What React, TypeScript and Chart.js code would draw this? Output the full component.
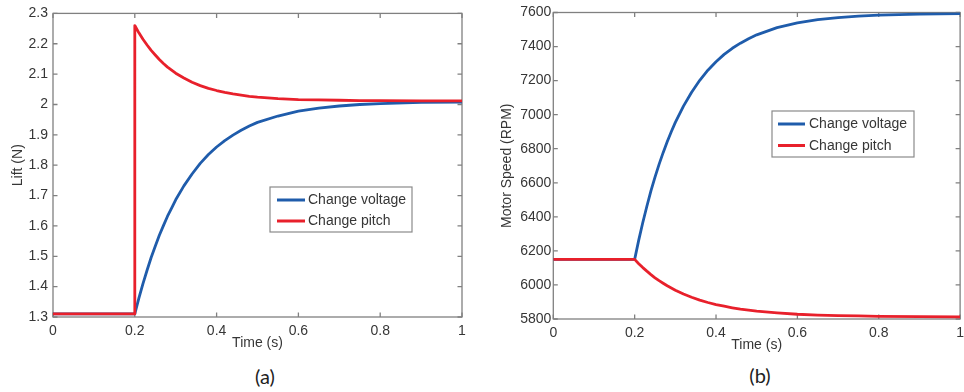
import React, { useEffect, useRef } from "react";
import { Chart, registerables } from "chart.js";

Chart.register(...registerables);

// ---------- data ----------
const time = [
  0, 0.2, 0.2, 0.21, 0.22, 0.23, 0.24, 0.25, 0.26, 0.27, 0.28, 0.29, 0.3,
  0.32, 0.34, 0.36, 0.38, 0.4, 0.42, 0.44, 0.46, 0.48, 0.5,
  0.55, 0.6, 0.65, 0.7, 0.75, 0.8, 0.9, 1.0,
];

// (a) Lift (N)
const liftVoltage = [
  1.31, 1.31, 1.31, 1.362, 1.41, 1.454, 1.496, 1.533, 1.569, 1.601, 1.632, 1.659, 1.686,
  1.732, 1.771, 1.806, 1.835, 1.86, 1.881, 1.899, 1.915, 1.929, 1.941,
  1.962, 1.978, 1.988, 1.995, 2.0, 2.003, 2.007, 2.008,
];
const liftPitch = [
  1.31, 1.31, 2.26, 2.236, 2.215, 2.196, 2.178, 2.163, 2.148, 2.135, 2.123, 2.113, 2.103,
  2.087, 2.073, 2.062, 2.053, 2.046, 2.04, 2.035, 2.031, 2.027, 2.024,
  2.019, 2.016, 2.015, 2.014, 2.013, 2.013, 2.012, 2.012,
];

// (b) Motor Speed (RPM)
const speedVoltage = [
  6150, 6150, 6150, 6263, 6367, 6462, 6552, 6633, 6708, 6777, 6841, 6900, 6955,
  7050, 7132, 7202, 7261, 7311, 7354, 7390, 7420, 7446, 7469,
  7511, 7539, 7558, 7570, 7579, 7584, 7590, 7593,
];
const speedPitch = [
  6150, 6150, 6150, 6125, 6102, 6081, 6061, 6042, 6025, 6010, 5995, 5982, 5969,
  5947, 5928, 5911, 5897, 5885, 5875, 5866, 5858, 5852, 5846,
  5836, 5828, 5823, 5820, 5818, 5816, 5814, 5813,
];

const timeTicks = [0, 0.2, 0.4, 0.6, 0.8, 1];
const liftTicks = [1.3, 1.4, 1.5, 1.6, 1.7, 1.8, 1.9, 2.0, 2.1, 2.2, 2.3];
const speedTicks = [5800, 6000, 6200, 6400, 6600, 6800, 7000, 7200, 7400, 7600];

const seriesLabels = ["Change voltage", "Change pitch"];
const xTitle = "Time (s)";
const yTitles = ["Lift (N)", "Motor Speed (RPM)"];
const panelLabels = ["(a)", "(b)"];

// ---------- styles ----------
const BLUE = "#1f5cab";
const RED = "#e8202b";
const TEXT = "#363636";
const FRAME = "#808080";
const FONT = "'Liberation Sans', Arial, sans-serif";

const fmt = (v: number) => String(Number(Number(v).toFixed(2)));

const framePlugin = {
  id: "matlabFrame",
  beforeDatasetsDraw(chart: any) {
    const { ctx, chartArea, scales } = chart;
    const { left, right, top, bottom } = chartArea;
    const xs = scales.x;
    const ys = scales.y;
    ctx.save();
    ctx.strokeStyle = FRAME;
    ctx.lineWidth = 1.3;
    ctx.strokeRect(left, top, right - left, bottom - top);
    const L = 4.5;
    ctx.beginPath();
    xs.ticks.forEach((t: any) => {
      const px = xs.getPixelForValue(t.value);
      ctx.moveTo(px, bottom);
      ctx.lineTo(px, bottom - L);
      ctx.moveTo(px, top);
      ctx.lineTo(px, top + L);
    });
    ys.ticks.forEach((t: any) => {
      const py = ys.getPixelForValue(t.value);
      ctx.moveTo(left, py);
      ctx.lineTo(left + L, py);
      ctx.moveTo(right, py);
      ctx.lineTo(right - L, py);
    });
    ctx.stroke();
    ctx.restore();
  },
};

const legendPlugin = {
  id: "matlabLegend",
  afterDraw(chart: any, _args: any, opts: any) {
    const { ctx } = chart;
    const { box, rows, lineX0, lineX1, textX } = opts;
    ctx.save();
    ctx.fillStyle = "#ffffff";
    ctx.fillRect(box.x, box.y, box.w, box.h);
    ctx.strokeStyle = "#8a8a8a";
    ctx.lineWidth = 1.2;
    ctx.strokeRect(box.x, box.y, box.w, box.h);
    chart.data.datasets.forEach((ds: any, i: number) => {
      const y = rows[i];
      ctx.strokeStyle = ds.borderColor;
      ctx.lineWidth = 3;
      ctx.beginPath();
      ctx.moveTo(lineX0, y);
      ctx.lineTo(lineX1, y);
      ctx.stroke();
      ctx.fillStyle = TEXT;
      ctx.font = `14px ${FONT}`;
      ctx.textBaseline = "middle";
      ctx.textAlign = "left";
      ctx.fillText(ds.label, textX, y + 0.5);
    });
    ctx.restore();
  },
};

function makeConfig(p: any) {
  return {
    type: "line",
    data: {
      datasets: [
        {
          label: seriesLabels[0],
          data: time.map((t, i) => ({ x: t, y: p.voltage[i] })),
          borderColor: BLUE,
          borderWidth: 2.8,
          borderJoinStyle: "round",
          pointRadius: 0,
          tension: 0,
          fill: false,
          order: 1,
        },
        {
          label: seriesLabels[1],
          data: time.map((t, i) => ({ x: t, y: p.pitch[i] })),
          borderColor: RED,
          borderWidth: 2.8,
          borderJoinStyle: "round",
          pointRadius: 0,
          tension: 0,
          fill: false,
          order: 0,
        },
      ],
    },
    options: {
      responsive: false,
      animation: false,
      events: [],
      layout: { padding: p.padding },
      plugins: {
        legend: { display: false },
        tooltip: { enabled: false },
        matlabLegend: p.legend,
      },
      scales: {
        x: {
          type: "linear",
          min: 0,
          max: 1,
          afterBuildTicks: (s: any) => {
            s.ticks = timeTicks.map((v) => ({ value: v }));
          },
          afterFit: (s: any) => {
            s.height = p.xHeight;
          },
          grid: { display: false, drawTicks: false },
          border: { display: false },
          ticks: {
            autoSkip: false,
            maxRotation: 0,
            padding: 6,
            color: TEXT,
            font: { family: FONT, size: 14 },
            callback: (v: any) => fmt(v),
          },
          title: {
            display: true,
            text: xTitle,
            color: TEXT,
            font: { family: FONT, size: 14 },
            padding: { top: 0, bottom: p.xTitlePad },
          },
        },
        y: {
          type: "linear",
          min: p.yTicks[0],
          max: p.yTicks[p.yTicks.length - 1],
          afterBuildTicks: (s: any) => {
            s.ticks = p.yTicks.map((v: number) => ({ value: v }));
          },
          afterFit: (s: any) => {
            s.width = p.yWidth;
          },
          grid: { display: false, drawTicks: false },
          border: { display: false },
          ticks: {
            autoSkip: false,
            padding: p.yTickPad,
            color: TEXT,
            font: { family: FONT, size: 14 },
            callback: (v: any) => fmt(v),
          },
          title: {
            display: true,
            text: p.yTitle,
            color: TEXT,
            font: { family: FONT, size: 14 },
            padding: { top: p.yTitlePad, bottom: 0 },
          },
        },
      },
    },
    plugins: [framePlugin, legendPlugin],
  };
}

function Panel({ config, left, width, height }: any) {
  const ref = useRef<HTMLCanvasElement>(null);
  useEffect(() => {
    const chart = new Chart(ref.current as HTMLCanvasElement, config as any);
    return () => chart.destroy();
  }, []);
  return (
    <canvas
      ref={ref}
      width={width}
      height={height}
      style={{ position: "absolute", left, top: 0, width, height }}
    />
  );
}

const configA = makeConfig({
  voltage: liftVoltage,
  pitch: liftPitch,
  yTicks: liftTicks,
  yTitle: yTitles[0],
  padding: { top: 13, right: 18, left: 0, bottom: 0 },
  yWidth: 53,
  xHeight: 43,
  yTickPad: 5,
  yTitlePad: 10,
  xTitlePad: 8.6,
  legend: {
    box: { x: 270, y: 187, w: 142, h: 45 },
    rows: [200, 221],
    lineX0: 277,
    lineX1: 305,
    textX: 308,
  },
});

const configB = makeConfig({
  voltage: speedVoltage,
  pitch: speedPitch,
  yTicks: speedTicks,
  yTitle: yTitles[1],
  padding: { top: 12.5, right: 5.2, left: 0, bottom: 0 },
  yWidth: 73.3,
  xHeight: 41,
  yTickPad: 2,
  yTitlePad: 18.6,
  xTitlePad: 6.6,
  legend: {
    box: { x: 292, y: 111, w: 142, h: 46 },
    rows: [124, 145.5],
    lineX0: 298,
    lineX1: 325,
    textX: 329,
  },
});

const labelStyle: any = {
  position: "absolute",
  transform: "translate(-50%, -50%)",
  fontFamily: "Lato, 'Open Sans', sans-serif",
  fontSize: 20,
  color: "#222",
  whiteSpace: "nowrap",
};

export default function App() {
  return (
    <div
      style={{
        position: "fixed",
        left: 0,
        top: 0,
        width: 964,
        height: 392,
        overflow: "hidden",
        background: "#fff",
      }}
    >
      <Panel config={configA} left={0} width={480} height={360} />
      <Panel config={configB} left={480} width={490} height={360} />
      <div style={{ ...labelStyle, left: 265, top: 376 }}>{panelLabels[0]}</div>
      <div style={{ ...labelStyle, left: 760, top: 375 }}>{panelLabels[1]}</div>
    </div>
  );
}
